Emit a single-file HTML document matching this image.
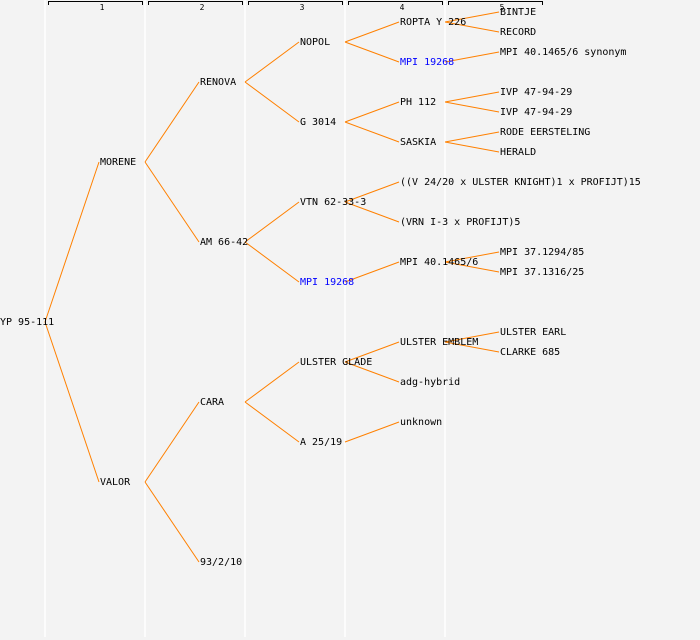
<!DOCTYPE html>
<html><head><meta charset="utf-8"><style>
html,body{margin:0;padding:0;background:#f3f3f3;}
svg{display:block;}
text{font-family:"DejaVu Sans Mono","Liberation Mono",monospace;font-size:10px;fill:#000;}
.b{fill:#0000ff;}
.h{font-size:8px;}
</style></head><body>
<svg width="700" height="640" viewBox="0 0 700 640" xmlns="http://www.w3.org/2000/svg">
<rect width="700" height="640" fill="#f3f3f3"/>
<g stroke="#ffffff" stroke-width="1.5">
<line x1="45" y1="0" x2="45" y2="637"/>
<line x1="145" y1="0" x2="145" y2="637"/>
<line x1="245" y1="0" x2="245" y2="637"/>
<line x1="345" y1="0" x2="345" y2="637"/>
<line x1="445" y1="0" x2="445" y2="637"/>
</g>
<g stroke="#000" stroke-width="1" fill="none">
<path d="M48.5 5V1.5H142.5V5"/>
<path d="M148.5 5V1.5H242.5V5"/>
<path d="M248.5 5V1.5H342.5V5"/>
<path d="M348.5 5V1.5H442.5V5"/>
<path d="M448.5 5V1.5H542.5V5"/>
</g>
<g text-anchor="middle">
<text class="h" x="102" y="10">1</text>
<text class="h" x="202" y="10">2</text>
<text class="h" x="302" y="10">3</text>
<text class="h" x="402" y="10">4</text>
<text class="h" x="502" y="10">5</text>
</g>
<g stroke="#ff8000" stroke-width="1" fill="none">
<path d="M45 322L99 162M45 322L99 482"/>
<path d="M145 162L199 82M145 162L199 242M145 482L199 402M145 482L199 562"/>
<path d="M245 82L299 42M245 82L299 122M245 242L299 202M245 242L299 282M245 402L299 362M245 402L299 442"/>
<path d="M345 42L399 22M345 42L399 62M345 122L399 102M345 122L399 142M345 202L399 182M345 202L399 222M345 282L399 262M345 362L399 342M345 362L399 382M345 442L399 422"/>
<path d="M445 22L499 12M445 22L499 32M445 62L499 52M445 102L499 92M445 102L499 112M445 142L499 132M445 142L499 152M445 262L499 252M445 262L499 272M445 342L499 332M445 342L499 352"/>
</g>
<g>
<text x="0" y="325">YP 95-111</text>
<text x="100" y="165">MORENE</text>
<text x="100" y="485">VALOR</text>
<text x="200" y="85">RENOVA</text>
<text x="200" y="245">AM 66-42</text>
<text x="200" y="405">CARA</text>
<text x="200" y="565">93/2/10</text>
<text x="300" y="45">NOPOL</text>
<text x="300" y="125">G 3014</text>
<text x="300" y="205">VTN 62-33-3</text>
<text x="300" y="285" class="b">MPI 19268</text>
<text x="300" y="365">ULSTER GLADE</text>
<text x="300" y="445">A 25/19</text>
<text x="400" y="25">ROPTA Y 226</text>
<text x="400" y="65" class="b">MPI 19268</text>
<text x="400" y="105">PH 112</text>
<text x="400" y="145">SASKIA</text>
<text x="400" y="185">((V 24/20 x ULSTER KNIGHT)1 x PROFIJT)15</text>
<text x="400" y="225">(VRN I-3 x PROFIJT)5</text>
<text x="400" y="265">MPI 40.1465/6</text>
<text x="400" y="345">ULSTER EMBLEM</text>
<text x="400" y="385">adg-hybrid</text>
<text x="400" y="425">unknown</text>
<text x="500" y="15">BINTJE</text>
<text x="500" y="35">RECORD</text>
<text x="500" y="55">MPI 40.1465/6 synonym</text>
<text x="500" y="95">IVP 47-94-29</text>
<text x="500" y="115">IVP 47-94-29</text>
<text x="500" y="135">RODE EERSTELING</text>
<text x="500" y="155">HERALD</text>
<text x="500" y="255">MPI 37.1294/85</text>
<text x="500" y="275">MPI 37.1316/25</text>
<text x="500" y="335">ULSTER EARL</text>
<text x="500" y="355">CLARKE 685</text>
</g>
</svg>
</body></html>
